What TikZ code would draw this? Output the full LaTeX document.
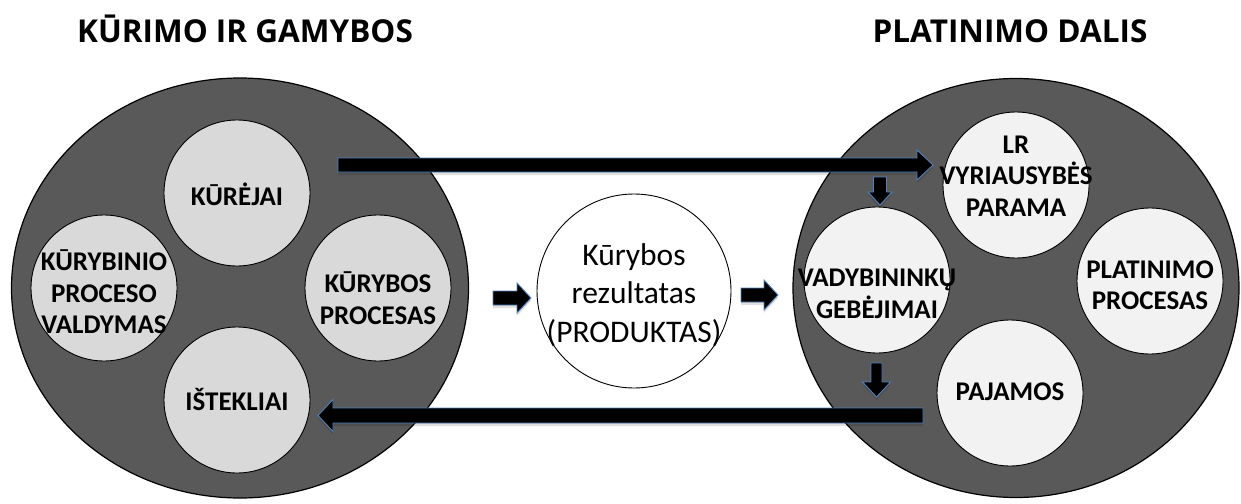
\documentclass[tikz,border=0pt]{standalone}
\usepackage{fontspec}
\setmainfont{Carlito}
\newfontfamily\titlefont{Open Sans}
\usetikzlibrary{shapes.geometric,calc,shadows}

\definecolor{outergray}{HTML}{595959}
\definecolor{leftgray}{HTML}{D9D9D9}
\definecolor{rightgray}{HTML}{F2F2F2}
\definecolor{arrowblue}{HTML}{4F81BD}

% block arrow from #1 to #2: shaft half width #3, head half width #4, head length #5
\newcommand{\blockarrow}[5]{%
    \coordinate (hd) at ($(#2)!#5!(#1)$);
    \draw[blockarrow] ($(#1)!#3!90:(#2)$) -- ($(hd)!#3!90:(#2)$) -- ($(hd)!#4!90:(#2)$)
        -- (#2) -- ($(hd)!#4!-90:(#2)$) -- ($(hd)!#3!-90:(#2)$) -- ($(#1)!#3!-90:(#2)$) -- cycle;}

\begin{document}
\begin{tikzpicture}[x=1pt,y=-1pt,
    title/.style={font=\titlefont\bfseries\fontsize{31.5}{36}\selectfont, anchor=base},
    outer/.style={ellipse, draw=black, line width=1.2pt, fill=outergray, inner sep=0pt},
    part/.style={circle, draw=black, line width=0.9pt, inner sep=0pt, minimum size=146pt},
    partlabel/.style={align=center, inner sep=0pt, font=\bfseries\fontsize{27}{31.5}\selectfont},
    blockarrow/.style={fill=black, draw=arrowblue, line width=0.9pt, line join=miter,
        drop shadow={shadow xshift=0pt, shadow yshift=-3pt, fill=black, opacity=0.12}}]

    \useasboundingbox (0,0) rectangle (1241,503);

    % --- Titles ---
    \node[title] (tL) at (245,43) {KŪRIMO IR GAMYBOS};
    \node[title] (tR) at (1010,43) {PLATINIMO DALIS};

    % --- Outer ellipses ---
    \node[outer, minimum width=457pt, minimum height=420pt] (L) at (240,288) {};
    \node[outer, minimum width=446pt, minimum height=419pt] (R) at (1016,288) {};

    % --- Left parts (creation and production) ---
    \node[part, fill=leftgray] (kur) at (237,193) {};
    \node[part, fill=leftgray] (val) at (104,288) {};
    \node[part, fill=leftgray] (pro) at (378,288) {};
    \node[part, fill=leftgray] (ist) at (237,400) {};
    \node[partlabel] (kurT) at ($(kur)+(0,1)$)  {KŪRĖJAI};
    \node[partlabel] (valT) at ($(val)+(0,4)$)  {KŪRYBINIO\\PROCESO\\VALDYMAS};
    \node[partlabel] (proT) at ($(pro)+(0,10)$) {KŪRYBOS\\PROCESAS};
    \node[partlabel] (istT) at ($(ist)+(0,-1)$) {IŠTEKLIAI};

    % --- Right parts (distribution) ---
    \node[part, fill=rightgray] (lr)  at (1016,185) {};
    \node[part, fill=rightgray] (vad) at (877,280)  {};
    \node[part, fill=rightgray] (pla) at (1150,281) {};
    \node[part, fill=rightgray] (paj) at (1010,393) {};
    \node[partlabel] (lrT)  at ($(lr)+(0,-9)$)  {LR\\VYRIAUSYBĖS\\PARAMA};
    \node[partlabel] (vadT) at ($(vad)+(0,14)$) {VADYBININKŲ\\GEBĖJIMAI};
    \node[partlabel] (plaT) at ($(pla)+(0,4)$)  {PLATINIMO\\PROCESAS};
    \node[partlabel] (pajT) at ($(paj)+(0,-1)$) {PAJAMOS};

    % --- Result in the middle ---
    \node[circle, draw=black, line width=0.9pt, fill=white, minimum size=194pt, inner sep=0pt]
        (res) at (634,291) {};
    \node[align=center, inner sep=0pt, font=\fontsize{31.5}{38.5}\selectfont] (resT)
        at ($(res)+(0,4)$) {Kūrybos\\rezultatas\\(PRODUKTAS)};

    % --- Arrow ends ---
    \coordinate (topS) at (338,165);   \coordinate (topE) at (933,165);
    \coordinate (botS) at (923,415.5); \coordinate (botE) at (318,415.5);
    \coordinate (inS)  at (493,298);   \coordinate (inE)  at (531,298);
    \coordinate (outS) at (741,295);   \coordinate (outE) at (778,295);
    \coordinate (d1S)  at (880,177);   \coordinate (d1E)  at (880,205);
    \coordinate (d2S)  at (876.5,363); \coordinate (d2E)  at (876.5,397);

    % --- Block arrows ---
    \blockarrow{topS}{topE}{7pt}{15pt}{16pt}   % KŪRĖJAI -> LR parama
    \blockarrow{botS}{botE}{7.5pt}{16pt}{15pt} % back to IŠTEKLIAI
    \blockarrow{inS}{inE}{7pt}{15pt}{14pt}     % into the result
    \blockarrow{outS}{outE}{7pt}{15pt}{14pt}   % out of the result
    \blockarrow{d1S}{d1E}{6.5pt}{12pt}{13pt}
    \blockarrow{d2S}{d2E}{5.5pt}{14pt}{15pt}

\end{tikzpicture}
\end{document}
